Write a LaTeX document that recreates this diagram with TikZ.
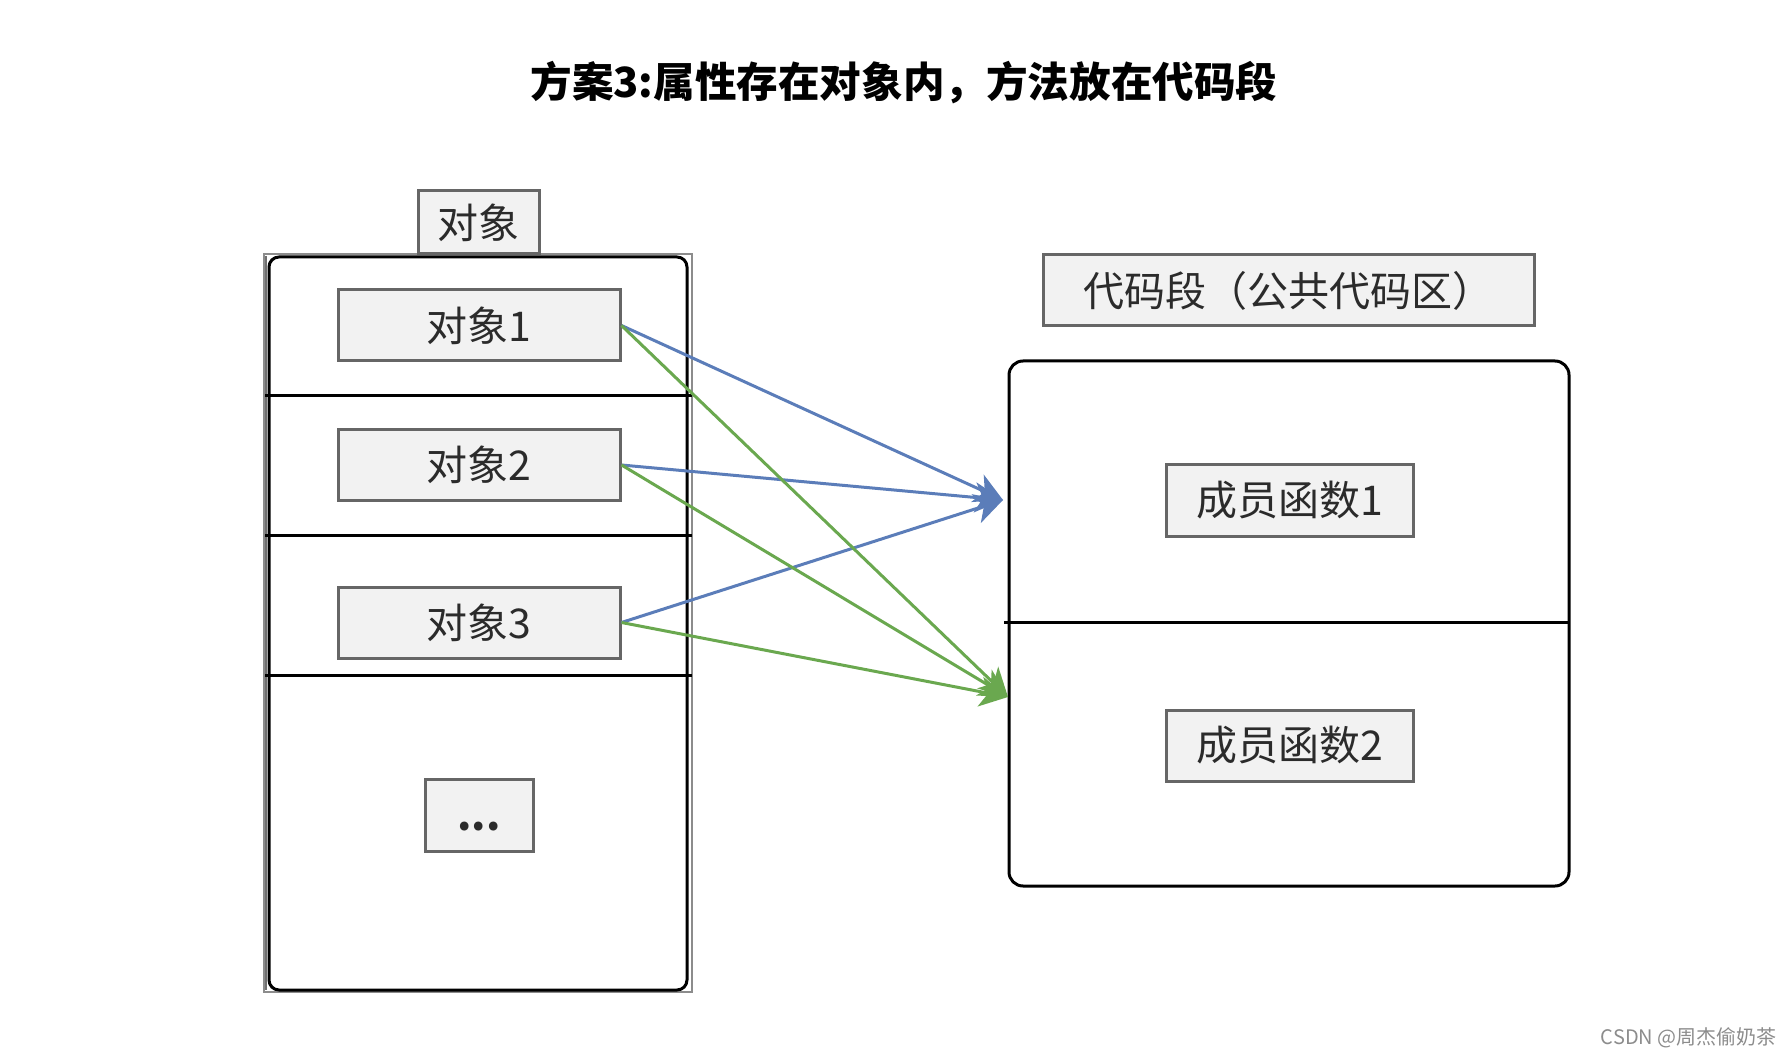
\documentclass[tikz,border=0pt]{standalone}
\usepackage{fontspec}
\setmainfont{Noto Sans CJK SC}
\usetikzlibrary{arrows.meta}
\definecolor{boxfill}{HTML}{F2F2F2}
\definecolor{boxline}{HTML}{666666}
\definecolor{txt}{HTML}{2B2B2B}
\definecolor{arrblue}{HTML}{5B7DB9}
\definecolor{arrgreen}{HTML}{6AA84F}
\definecolor{outergray}{HTML}{8C8C8C}
\begin{document}
\begin{tikzpicture}[x=0.5pt,y=-0.5pt,
  cell/.style={draw=boxline, fill=boxfill, line width=1.5pt, text=txt,
    font=\fontsize{20.5}{24}\selectfont, inner sep=0pt, minimum height=35.5pt},
  frame/.style={draw=black, line width=1.5pt, rounded corners=5pt},
  sep/.style={draw=black, line width=1.5pt},
  conn/.style={line width=1.5pt, -{Stealth[length=14pt,width=15pt,inset=4pt]}}
]
\useasboundingbox (0,0) rectangle (1792,1058);

% title
\node[font=\fontsize{20.8}{24}\selectfont\bfseries, text=black] (title) at (904,83) {方案3:属性存在对象内，方法放在代码段};

% left container
\draw[draw=outergray, line width=1.2pt] (264,254) rectangle (692,992);
\draw[draw=outergray!80!black, line width=1pt] (265.5,256) -- (265.5,990);
\draw[frame] (269,257) rectangle (687,990);
\coordinate (l1a) at (265,396); \coordinate (l1b) at (692,396);
\coordinate (l2a) at (265,535); \coordinate (l2b) at (692,535);
\coordinate (l3a) at (265,675); \coordinate (l3b) at (692,675);
\draw[sep] (l1a) -- (l1b);
\draw[sep] (l2a) -- (l2b);
\draw[sep] (l3a) -- (l3b);

\node[cell, minimum width=60.5pt, minimum height=31.5pt] (hdr) at (478.5,222.5) {对象};
\node[cell, minimum width=141pt] (o1) at (479,325.5) {对象1};
\node[cell, minimum width=141pt] (o2) at (479,465) {对象2};
\node[cell, minimum width=141pt] (o3) at (479,622.5) {对象3};
\node[cell, minimum width=54pt, minimum height=36pt, text height=15pt, text depth=0pt, font=\fontsize{20.5}{24}\selectfont\bfseries] (dots) at (479,815) {...};

% right container
\node[cell, minimum width=245.5pt] (code) at (1288.5,290.5) {代码段（公共代码区）};
\draw[frame, rounded corners=7pt] (1009,361) rectangle (1569,886);
\coordinate (r1a) at (1004,622); \coordinate (r1b) at (1569,622);
\draw[sep] (r1a) -- (r1b);
\node[cell, minimum width=123.5pt] (f1) at (1289.5,500.5) {成员函数1};
\node[cell, minimum width=123.5pt] (f2) at (1289.5,745.5) {成员函数2};

% arrows
\coordinate (tb) at (1003,500);
\coordinate (tg) at (1008,697);
\draw[conn, arrblue] (o1.east) -- (tb);
\draw[conn, arrblue] (o2.east) -- (tb);
\draw[conn, arrblue] (o3.east) -- (tb);
\draw[conn, arrgreen] (o1.east) -- (tg);
\draw[conn, arrgreen] (o2.east) -- (tg);
\draw[conn, arrgreen] (o3.east) -- (tg);

% watermark
\node[anchor=east, text=black!45, font=\fontsize{10}{12}\selectfont, inner sep=0pt] (wm) at (1777,1038) {CSDN @周杰偷奶茶};
\end{tikzpicture}
\end{document}
